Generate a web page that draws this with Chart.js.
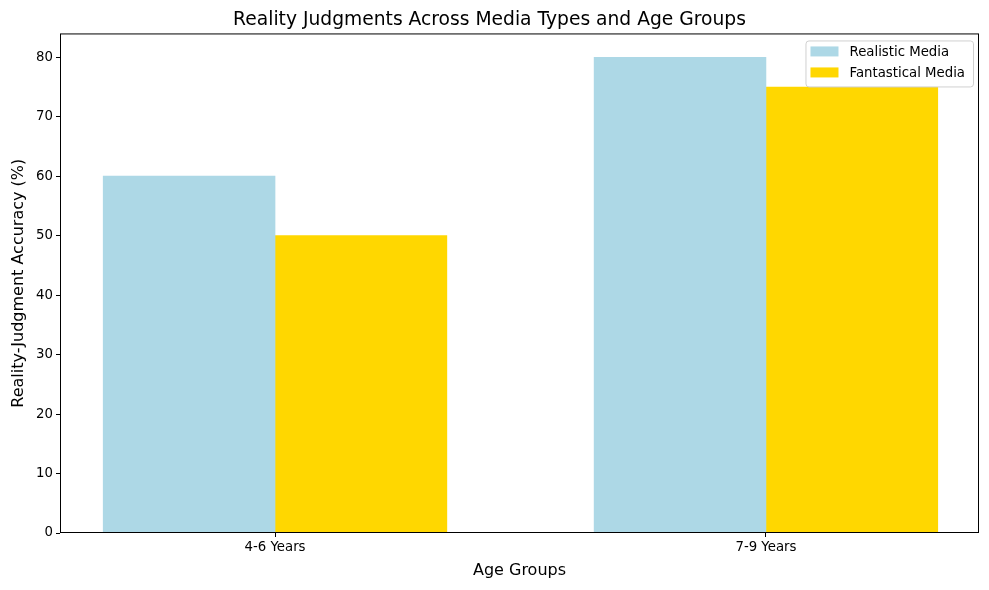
<!DOCTYPE html>
<html>
<head>
<meta charset="utf-8">
<script src="https://cdn.jsdelivr.net/npm/chart.js@4/dist/chart.umd.min.js"></script>
<style>
  body { margin: 0; background: #fff; }
  #wrap { width: 989px; height: 590px; position: relative; }
</style>
</head>
<body>
<div id="wrap"><canvas id="realityChart"></canvas></div>
<script>
// data
var ageGroups = ['4-6 Years', '7-9 Years'];
var realisticMedia = [60, 80];
var fantasticalMedia = [50, 75];
var seriesNames = ['Realistic Media', 'Fantastical Media'];
var seriesColors = ['#ADD8E6', '#FFD700'];
var yTicks = [0, 10, 20, 30, 40, 50, 60, 70, 80];

var barWidth = 0.35;
var fontFamily = 'DejaVu Sans';

function toPoints(values, shift) {
    var points = [];
    for (var i = 0; i < values.length; i++) {
        points.push({ x: i + shift, y: values[i] });
    }
    return points;
}

// full box around the plot, like matplotlib spines
var framePlugin = {
    id: 'frame',
    afterDatasetsDraw: function(chart) {
        var a = chart.chartArea;
        var ctx = chart.ctx;
        ctx.save();
        ctx.strokeStyle = '#000';
        ctx.lineWidth = 1;
        ctx.strokeRect(a.left + 0.5, a.top + 0.5, a.right - a.left - 1, a.bottom - a.top - 1);
        ctx.restore();
    }
};

// legend drawn inside the plot, upper right
var insideLegend = {
    id: 'insideLegend',
    afterDraw: function(chart) {
        var a = chart.chartArea;
        var ctx = chart.ctx;
        var sets = chart.data.datasets;
        ctx.save();
        ctx.font = '13.3px "' + fontFamily + '"';
        var textW = 0;
        sets.forEach(function(ds) { textW = Math.max(textW, ctx.measureText(ds.label).width); });
        var boxW = 5 + 28 + 11 + textW + 8;
        var boxH = 46;
        var x = a.right - 6 - boxW;
        var y = a.top + 7;
        ctx.beginPath();
        ctx.roundRect(x + 0.5, y + 0.5, boxW, boxH, 3);
        ctx.fillStyle = 'rgba(255,255,255,0.8)';
        ctx.fill();
        ctx.strokeStyle = '#d0d0d0';
        ctx.lineWidth = 1;
        ctx.stroke();
        ctx.textBaseline = 'middle';
        sets.forEach(function(ds, i) {
            var rowY = y + 11 + i * 21;
            ctx.fillStyle = ds.backgroundColor;
            ctx.fillRect(x + 5, rowY - 5, 28, 10);
            ctx.fillStyle = '#000';
            ctx.fillText(ds.label, x + 44, rowY + 1);
        });
        ctx.restore();
    }
};

var ctx = document.getElementById('realityChart').getContext('2d');

var myChart = new Chart(ctx, {
    type: 'bar',
    data: {
        datasets: [{
            label: seriesNames[0],
            data: toPoints(realisticMedia, -barWidth / 2),
            backgroundColor: seriesColors[0]
        }, {
            label: seriesNames[1],
            data: toPoints(fantasticalMedia, barWidth / 2),
            backgroundColor: seriesColors[1]
        }]
    },
    options: {
        responsive: true,
        maintainAspectRatio: false,
        animation: false,
        grouped: false,
        barPercentage: 1,
        categoryPercentage: 1,
        layout: { padding: { right: 10 } },
        plugins: {
            legend: { display: false },
            tooltip: { enabled: false },
            title: {
                display: true,
                text: 'Reality Judgments Across Media Types and Age Groups',
                color: '#000',
                font: { family: fontFamily, size: 18.7, weight: 'normal' },
                padding: { top: 9, bottom: 2 }
            }
        },
        scales: {
            x: {
                type: 'linear',
                min: -0.438,
                max: 1.434,
                offset: false,
                afterBuildTicks: function(axis) {
                    axis.ticks = ageGroups.map(function(_, i) { return { value: i }; });
                },
                afterFit: function(axis) { axis.height = 57; },
                ticks: {
                    color: '#000',
                    padding: 3,
                    maxRotation: 0,
                    font: { family: fontFamily, size: 13.3 },
                    callback: function(value) { return ageGroups[value]; }
                },
                grid: { offset: false, drawOnChartArea: false, drawTicks: true, tickLength: 4, color: '#000' },
                border: { display: false },
                title: {
                    display: true,
                    text: 'Age Groups',
                    color: '#000',
                    font: { family: fontFamily, size: 16 },
                    padding: { top: 0, bottom: 10 }
                }
            },
            y: {
                min: 0,
                max: 84,
                afterBuildTicks: function(axis) {
                    axis.ticks = yTicks.map(function(v) { return { value: v }; });
                },
                afterFit: function(axis) { axis.width = 60; },
                ticks: {
                    color: '#000',
                    padding: 3,
                    font: { family: fontFamily, size: 13.3 }
                },
                grid: { drawOnChartArea: false, drawTicks: true, tickLength: 4, color: '#000' },
                border: { display: false },
                title: {
                    display: true,
                    text: 'Reality-Judgment Accuracy (%)',
                    color: '#000',
                    font: { family: fontFamily, size: 16 },
                    padding: { top: 9, bottom: 0 }
                }
            }
        }
    },
    plugins: [framePlugin, insideLegend]
});
</script>
</body>
</html>
